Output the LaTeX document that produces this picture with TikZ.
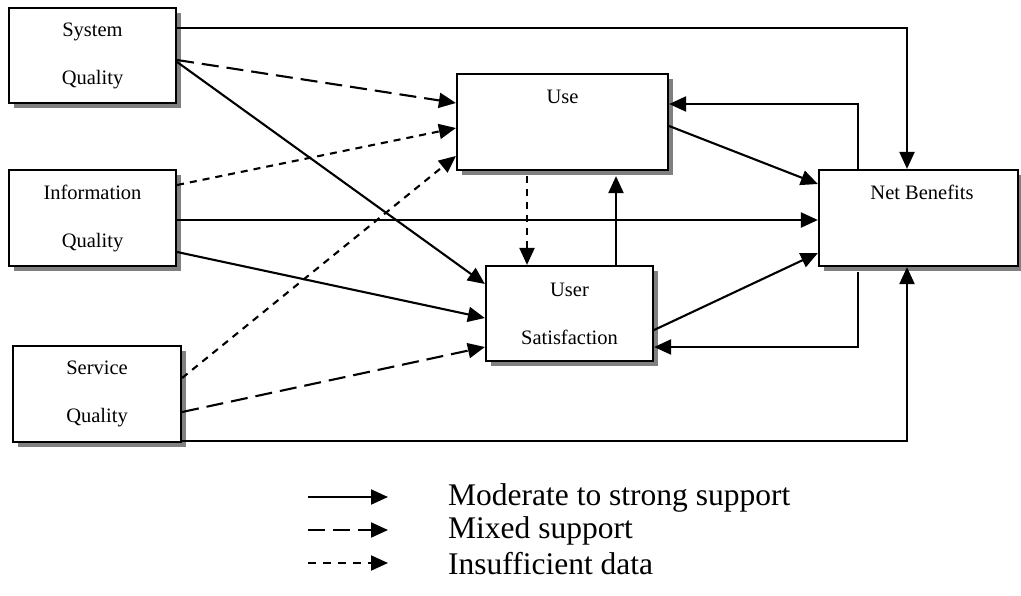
\documentclass[tikz,border=0pt]{standalone}
\usepackage{fontspec}
\setmainfont{Liberation Serif}
\usetikzlibrary{arrows.meta,shadows}
\begin{document}
\begin{tikzpicture}[x=1pt,y=-1pt,
  box/.style={draw, line width=2.2pt, fill=white, rectangle, inner sep=0pt, align=center,
    font=\fontsize{20.5}{48}\selectfont,
    drop shadow={shadow xshift=5pt, shadow yshift=-5pt, fill=black!50, opacity=1}},
  boxlabel/.style={anchor=center, font=\fontsize{20.5}{24}\selectfont},
  link/.style={line width=2.1pt, -{Triangle[length=17pt,width=15pt]}},
  mixed/.style={link, dash pattern=on 17pt off 8pt},
  scarce/.style={link, dash pattern=on 7pt off 6pt},
  legendtext/.style={anchor=west, font=\fontsize{31.5}{37}\selectfont, inner sep=0pt}]
\useasboundingbox (0,0) rectangle (1021,595);

% constructs
\node[box, minimum width=167pt, minimum height=95pt] (sys) at (92.5,55.5) {System\\Quality};
\node[box, minimum width=167pt, minimum height=96pt] (info) at (92.5,218) {Information\\Quality};
\node[box, minimum width=168pt, minimum height=96pt] (serv) at (97,394) {Service\\Quality};
\node[box, minimum width=211pt, minimum height=96pt,
  label={[boxlabel, yshift=-24pt]north:Use}] (use) at (562.5,122) {};
\node[box, minimum width=167pt, minimum height=95pt] (usat) at (569.5,313.5) {User\\Satisfaction};
\node[box, minimum width=199pt, minimum height=96pt,
  label={[boxlabel, yshift=-23pt, xshift=3.5pt]north:Net Benefits}] (nb) at (918.5,218) {};

% paths from the quality dimensions
\draw[link] (sys.east |- 0,28) -| (nb.north -| 907,0);
\draw[mixed] (sys.east |- 0,60) -- (use.west |- 0,103);
\draw[link] (sys.east |- 0,62) -- (usat.west |- 0,284);
\draw[scarce] (info.east |- 0,185) -- (use.west |- 0,128);
\draw[link] (info.east |- 0,220) -- (nb.west |- 0,220);
\draw[link] (info.east |- 0,252) -- (usat.west |- 0,318);
\draw[scarce] (serv.east |- 0,378) -- (use.west |- 0,156);
\draw[mixed] (serv.east |- 0,412) -- (usat.west |- 0,347);
\draw[link] (serv.east |- 0,441) -| (nb.south -| 907,0);

% use, satisfaction and net benefits
\draw[link] (use.east |- 0,126) -- (nb.west |- 0,184);
\draw[link] (nb.north -| 858,0) |- (use.east |- 0,104);
\draw[scarce, shorten <=5pt] (use.south -| 527,0) -- (usat.north -| 527,0);
\draw[link, shorten >=5pt] (usat.north -| 616,0) -- (use.south -| 616,0);
\draw[link] (usat.east |- 0,330) -- (nb.west |- 0,253);
\draw[link, shorten <=5pt] (nb.south -| 858,0) |- (usat.east |- 0,347);

% legend
\coordinate (la1) at (308,497); \coordinate (lb1) at (388,497);
\coordinate (la2) at (308,530); \coordinate (lb2) at (388,530);
\coordinate (la3) at (308,563); \coordinate (lb3) at (388,563);
\draw[link] (la1) -- (lb1);
\draw[link, dash pattern=on 17pt off 8pt] (la2) -- (lb2);
\draw[link, dash pattern=on 8pt off 7pt] (la3) -- (lb3);
\node[legendtext] (t1) at (448,498) {Moderate to strong support};
\node[legendtext] (t2) at (448,531) {Mixed support};
\node[legendtext] (t3) at (448,564) {Insufficient data};
\end{tikzpicture}
\end{document}
